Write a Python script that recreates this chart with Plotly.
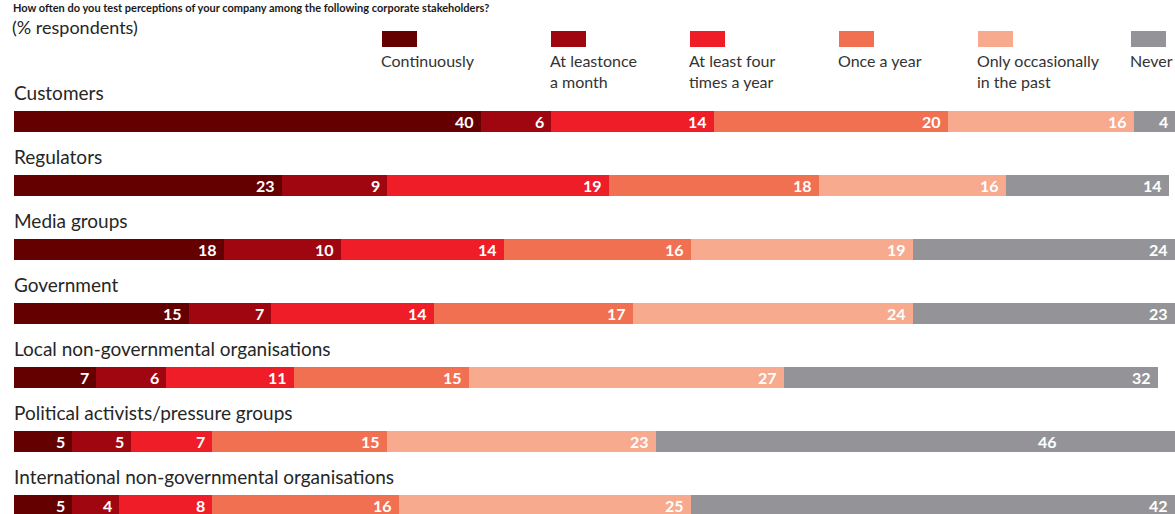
import plotly.graph_objects as go

# Survey results: share of respondents (%) by stakeholder group and testing frequency
stakeholders = [
    "Customers",
    "Regulators",
    "Media groups",
    "Government",
    "Local non-governmental organisations",
    "Political activists/pressure groups",
    "International non-governmental organisations",
]
frequency_labels = [
    "Continuously",
    "At leastonce<br>a month",
    "At least four<br>times a year",
    "Once a year",
    "Only occasionally<br>in the past",
    "Never",
]
continuously = [40, 23, 18, 15, 7, 5, 5]
monthly = [6, 9, 10, 7, 6, 5, 4]
quarterly = [14, 19, 14, 14, 11, 7, 8]
yearly = [20, 18, 16, 17, 15, 15, 16]
occasionally = [16, 16, 19, 24, 27, 23, 25]
never = [4, 14, 24, 23, 32, 46, 42]

series = [continuously, monthly, quarterly, yearly, occasionally, never]
colors = ["#650000", "#9f0610", "#ee1d27", "#f27052", "#f7aa8e", "#949498"]

W, H = 1175, 514
PX_PER_PCT = 11.67
LEFT_PX = 14
ROW0_PX, ROW_STEP = 121.5, 64.0
BAR_PX = 21

x_range = [-LEFT_PX / PX_PER_PCT, (W - LEFT_PX) / PX_PER_PCT]
y_range = [(H - ROW0_PX) / ROW_STEP, -ROW0_PX / ROW_STEP]

FONT = "Lato, 'Open Sans', sans-serif"
TEXT_DARK = "#262626"

rows = list(range(len(stakeholders)))

fig = go.Figure()
for name, vals, col in zip(frequency_labels, series, colors):
    fig.add_trace(go.Bar(
        y=rows, x=vals, orientation="h", name=name.replace("<br>", " "),
        marker=dict(color=col, line=dict(width=0)),
        width=BAR_PX / ROW_STEP, showlegend=False, hoverinfo="skip",
    ))

annotations = []

# value labels, right-aligned inside each segment
label_x_override = {(5, 5): 90.0}
for r in rows:
    cum = 0
    for s, vals in enumerate(series):
        cum += vals[r]
        xpos = label_x_override.get((r, s), min(cum, x_range[1]))
        annotations.append(dict(
            x=xpos, y=r, xref="x", yref="y", text=str(vals[r]),
            xanchor="right", yanchor="middle", xshift=-5, showarrow=False,
            font=dict(family=FONT, size=16, color="white", weight="bold"),
        ))

# stakeholder names above each bar
for r, name in zip(rows, stakeholders):
    annotations.append(dict(
        x=0, y=r, xref="x", yref="y", text=name, xanchor="left", yanchor="middle",
        yshift=29, xshift=-2, showarrow=False,
        font=dict(family=FONT, size=19, color=TEXT_DARK),
    ))

# title and unit note
annotations.append(dict(
    x=12 / W, y=1, xref="paper", yref="paper", xanchor="left", yanchor="top",
    text="<b>How often do you test perceptions of your company among the following corporate stakeholders?</b>",
    showarrow=False, borderpad=0, font=dict(family=FONT, size=11, color="#1a1a1a"),
))
annotations.append(dict(
    x=11 / W, y=1 - 26.5 / H, xref="paper", yref="paper", xanchor="left", yanchor="middle",
    text="(% respondents)", showarrow=False, borderpad=0,
    font=dict(family=FONT, size=18, color=TEXT_DARK),
))

# custom legend: swatch with label underneath
legend_px = [382, 551, 690, 839, 978, 1131]
shapes = []
for lx, name, col in zip(legend_px, frequency_labels, colors):
    shapes.append(dict(
        type="rect", xref="paper", yref="paper",
        x0=lx / W, x1=(lx + 35) / W, y0=1 - 47 / H, y1=1 - 31 / H,
        fillcolor=col, line=dict(width=0),
    ))
    annotations.append(dict(
        x=(lx - 2) / W, y=1 - 50 / H, xref="paper", yref="paper",
        xanchor="left", yanchor="top", align="left", text=name, showarrow=False,
        borderpad=0, font=dict(family=FONT, size=16, color="#333333"),
    ))

fig.update_layout(
    width=W, height=H, autosize=False,
    margin=dict(l=0, r=0, t=0, b=0, pad=0),
    barmode="stack", bargap=0,
    plot_bgcolor="white", paper_bgcolor="white",
    xaxis=dict(range=x_range, visible=False, fixedrange=True),
    yaxis=dict(range=y_range, visible=False, fixedrange=True),
    annotations=annotations, shapes=shapes,
)

fig.write_html("out.html")
